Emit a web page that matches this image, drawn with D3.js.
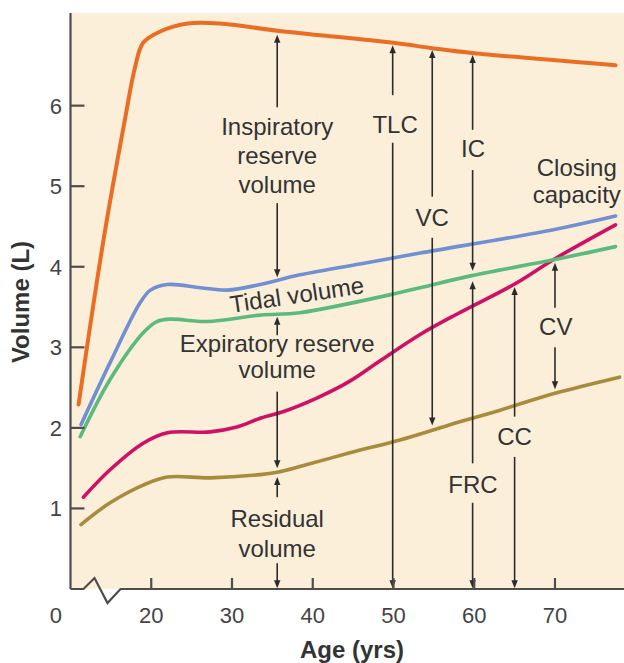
<!DOCTYPE html>
<html><head><meta charset="utf-8">
<script src="https://cdnjs.cloudflare.com/ajax/libs/d3/7.8.5/d3.min.js"></script>
<style>
html,body{margin:0;padding:0;background:#fff;}
svg{display:block;font-family:"Liberation Sans",Arial,Helvetica,sans-serif;}
</style></head>
<body><svg id="chart" width="624" height="663"></svg>
<script>
// ---------- data (age in years, volume in litres) ----------
const tlcAges = [11.0, 14.1, 16.8, 18.0, 19.0, 21.1, 24.5, 28.5, 35.6, 50, 55, 60, 77.5];
const tlcVols = [2.29, 4.34, 5.86, 6.48, 6.78, 6.92, 7.02, 7.02, 6.93, 6.78, 6.71, 6.65, 6.50];

const tidalTopAges = [11.3, 14.9, 18.6, 19.9, 22.0, 26.1, 29.4, 33.5, 38.4, 46.7, 53.3, 69.8, 77.5];
const tidalTopVols = [2.04, 2.81, 3.55, 3.71, 3.78, 3.74, 3.71, 3.78, 3.90, 4.05, 4.17, 4.46, 4.63];

const ercTopAges = [11.2, 14.9, 19.0, 20.7, 22.4, 26.9, 33.5, 38.4, 50.8, 53.3, 59.7, 70, 77.5];
const ercTopVols = [1.89, 2.60, 3.18, 3.32, 3.35, 3.32, 3.40, 3.43, 3.68, 3.74, 3.89, 4.09, 4.25];

const ccAges = [11.6, 14.9, 19.0, 22.0, 27.3, 30.6, 33.5, 36.3, 40.5, 44.6, 48.3, 53.3, 58.0, 64.9, 70, 77.5];
const ccVols = [1.14, 1.48, 1.81, 1.94, 1.95, 2.01, 2.12, 2.20, 2.37, 2.58, 2.83, 3.16, 3.42, 3.78, 4.10, 4.52];

const rvAges = [11.3, 14.9, 19.0, 22.0, 27.3, 33.5, 35.6, 38.4, 44.6, 50.8, 54.8, 57.0, 63.2, 70, 78];
const rvVols = [0.80, 1.07, 1.29, 1.39, 1.38, 1.42, 1.45, 1.52, 1.69, 1.85, 1.97, 2.04, 2.22, 2.43, 2.63];

const yTicks = [1, 2, 3, 4, 5, 6];
const xTicks = [20, 30, 40, 50, 60, 70];
const xOriginLabel = "0";

// arrows: [age, tail volume, tip volume (arrowhead end)]
const arrowAges  = [35.6, 35.6, 35.6, 35.6, 35.6, 35.6, 49.9, 49.9, 54.8, 54.8, 59.8, 59.8, 59.8, 59.8, 65, 65, 70, 70];
const arrowTails = [5.98, 4.79, 3.15, 2.45, 1.14, 0.32, 6.13, 5.54, 4.87, 4.36, 5.70, 5.20, 1.56, 1.07, 2.14, 1.64, 3.49, 3.00];
const arrowTips  = [6.88, 3.87, 3.38, 1.50, 1.39, 0.01, 6.75, 0.01, 6.69, 2.03, 6.63, 3.95, 3.82, 0.01, 3.75, 0.01, 4.05, 2.48];

// labels
const labelTexts = ["Inspiratory", "reserve", "volume", "TLC", "IC", "VC", "Closing", "capacity",
  "Expiratory reserve", "volume", "Residual", "volume", "CV", "CC", "FRC"];
const labelAges = [35.6, 35.6, 35.6, 50.2, 59.85, 54.8, 72.7, 72.7, 35.6, 35.6, 35.6, 35.6, 70.1, 65, 59.85];
const labelVols = [5.64, 5.27, 4.92, 5.66, 5.36, 4.50, 5.127, 4.79, 2.94, 2.62, 0.77, 0.40, 3.15, 1.79, 1.19];
const tidalLabel = "Tidal volume";
const tidalLabelAge = 38.2, tidalLabelVol = 3.55;

// ---------- drawing ----------
const W = 624, H = 663;
const svg = d3.select("#chart");
const x = d3.scaleLinear().domain([10, 78.3]).range([70.5, 622]);
const y = d3.scaleLinear().domain([0, 7.15]).range([589, 13]);

const axisColor = "#4d4d4d";
const textColor = "#333";

svg.append("rect").attr("x", x(10)).attr("y", y(7.15)).attr("width", W - x(10)).attr("height", y(0) - y(7.15))
  .attr("fill", "#fcefda");

const series = [
  {ages: rvAges, vols: rvVols, color: "#a88b3c", w: 3.6},
  {ages: ccAges, vols: ccVols, color: "#cf1166", w: 3.6},
  {ages: ercTopAges, vols: ercTopVols, color: "#5bbb7c", w: 3.6},
  {ages: tidalTopAges, vols: tidalTopVols, color: "#7090d2", w: 3.6},
  {ages: tlcAges, vols: tlcVols, color: "#ea6d24", w: 4}
];
const line = d3.line().x(d => x(d[0])).y(d => y(d[1])).curve(d3.curveCatmullRom.alpha(0.5));
series.forEach(s => {
  svg.append("path").attr("d", line(s.ages.map((a, i) => [a, s.vols[i]])))
    .attr("fill", "none").attr("stroke", s.color).attr("stroke-width", s.w)
    .attr("stroke-linecap", "round").attr("stroke-linejoin", "round");
});

const ag = svg.append("g").attr("stroke", "#2b2b2b").attr("fill", "#2b2b2b");
arrowAges.forEach((a, i) => {
  const px = x(a), y0 = y(arrowTails[i]), y1 = y(arrowTips[i]);
  const dir = y1 < y0 ? -1 : 1;
  const hl = 8, hw = 3.2;
  ag.append("line").attr("x1", px).attr("x2", px).attr("y1", y0).attr("y2", y1 - dir * hl * 0.6)
    .attr("stroke-width", 1.6);
  ag.append("path").attr("stroke", "none")
    .attr("d", `M${px},${y1} L${px - hw},${y1 - dir * hl} L${px + hw},${y1 - dir * hl} Z`);
});

const lg = svg.append("g").attr("fill", textColor).attr("font-size", 24).attr("text-anchor", "middle");
labelTexts.forEach((t, i) => {
  lg.append("text").attr("x", x(labelAges[i])).attr("y", y(labelVols[i])).text(t);
});
lg.append("text")
  .attr("transform", `translate(${x(tidalLabelAge)},${y(tidalLabelVol)}) rotate(-8.4)`)
  .text(tidalLabel);

const axg = svg.append("g").attr("stroke", axisColor).attr("fill", "none").attr("stroke-width", 2.2);
axg.append("line").attr("x1", x(10)).attr("x2", x(10)).attr("y1", y(7.15)).attr("y2", y(0));
const x0 = x(10), b = y(0);
axg.append("path").attr("stroke-linejoin", "miter")
  .attr("d", `M${x0},${b} L${x0 + 13},${b} L${x0 + 24},${b - 11} L${x0 + 37},${b + 14} L${x0 + 50},${b} L${W},${b}`);
yTicks.forEach(t => axg.append("line").attr("x1", x0).attr("x2", x0 + 14).attr("y1", y(t)).attr("y2", y(t)));
xTicks.forEach(t => axg.append("line").attr("x1", x(t)).attr("x2", x(t)).attr("y1", b).attr("y2", b - 11));

const tg = svg.append("g").attr("fill", "#444").attr("font-size", 22);
yTicks.forEach(t => tg.append("text").attr("x", 62).attr("y", y(t)).attr("dy", "0.36em")
  .attr("text-anchor", "end").text(t));
tg.append("text").attr("x", 62).attr("y", 623).attr("text-anchor", "end").text(xOriginLabel);
xTicks.forEach(t => tg.append("text").attr("x", x(t)).attr("y", 623).attr("text-anchor", "middle").text(t));

svg.append("text").attr("x", 352).attr("y", 658).attr("text-anchor", "middle")
  .attr("font-size", 24).attr("font-weight", "bold").attr("fill", "#333").text("Age (yrs)");
svg.append("text").attr("transform", "translate(29,302) rotate(-90)").attr("text-anchor", "middle")
  .attr("font-size", 24).attr("font-weight", "bold").attr("fill", "#333").text("Volume (L)");
</script></body></html>
